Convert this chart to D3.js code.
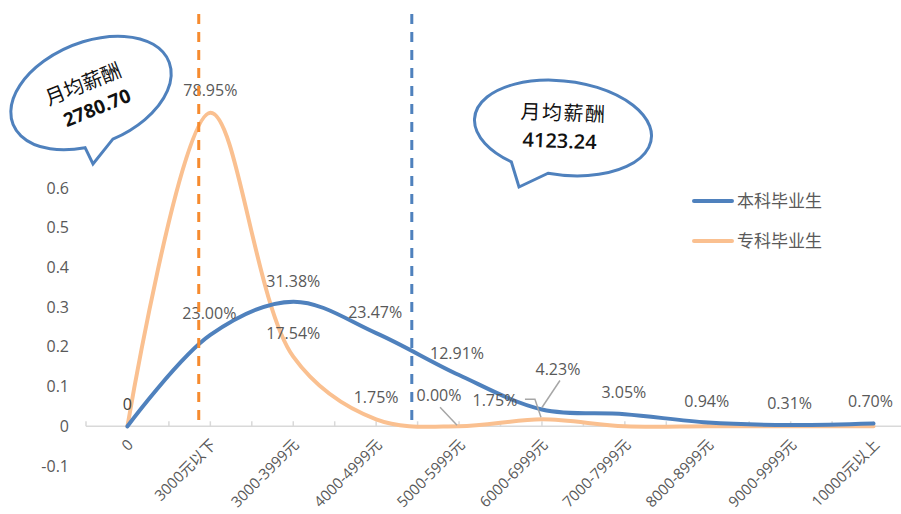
<!DOCTYPE html>
<html lang="zh">
<head>
<meta charset="utf-8">
<script src="https://cdn.jsdelivr.net/npm/d3@7"></script>
<style>
  body { margin: 0; background: #fff; }
  text { font-family: "Open Sans", "Noto Sans CJK SC", sans-serif; }
</style>
</head>
<body>
<svg id="chart" width="901" height="514"></svg>
<script>
// data
var categories = ["0", "3000元以下", "3000-3999元", "4000-4999元", "5000-5999元",
  "6000-6999元", "7000-7999元", "8000-8999元", "9000-9999元", "10000元以上"];
var undergrad = [0, 0.2300, 0.3138, 0.2347, 0.1291, 0.0423, 0.0305, 0.0094, 0.0031, 0.0070];
var college = [0, 0.7895, 0.1754, 0.0175, 0.0000, 0.0175, 0, 0, 0, 0];
var seriesNames = ["本科毕业生", "专科毕业生"];
var yTicks = [-0.1, 0, 0.1, 0.2, 0.3, 0.4, 0.5, 0.6];
var meanSalary = [2780.70, 4123.24];      // 专科, 本科
var meanOnAxis = [0.86, 3.43];            // where the mean sits on the category axis

// which points get a label, and where the label sits (pixels from the point)
var collegeLabels = [[0, 0, -22], [1, 0, -22], [2, 0, -23], [3, 0, -22], [4, -20, -31], [5, -47, -19]];
var undergradLabels = [[1, -1, -22], [2, 0, -20], [3, -1, -21], [4, -2, -22], [5, 16, -40],
  [6, -1, -22], [7, -1, -21], [8, -1, -22], [9, -3, -22]];
var leaders = [
  {s: "undergrad", i: 5, pts: [[18, -29], [0, -2]]},
  {s: "college", i: 4, pts: [[-19, -19], [-2, -1]]},
  {s: "college", i: 5, pts: [[-17, -20], [-7, -20], [-1, -2]]}
];

var blue = "#4f81bd", orange = "#fac090", grey = "#595959";
var svg = d3.select("#chart");

var x = d3.scaleLinear().domain([-0.5, 9.5]).range([86, 915]);
var y = d3.scaleLinear().domain([-0.1, 0.6]).range([466, 188]);
var pct = d3.format(".2%");

// y labels, no axis line
svg.append("g").selectAll("text")
  .data(yTicks)
  .enter().append("text")
  .attr("x", 69)
  .attr("y", d => y(d))
  .attr("dy", "0.35em")
  .attr("text-anchor", "end")
  .style("font-size", "16px")
  .style("fill", grey)
  .text(d => String(+d.toFixed(1)));

// x axis line with ticks every half category
var halfTicks = d3.range(-0.5, 9.51, 0.5);
var xAxisG = svg.append("g").attr("transform", "translate(0," + y(0) + ")");
xAxisG.append("line")
  .attr("x1", x(-0.5)).attr("x2", 901)
  .attr("stroke", "#d9d9d9").attr("stroke-width", 1.5);
xAxisG.selectAll(".tk")
  .data(halfTicks)
  .enter().append("line")
  .attr("x1", d => x(d)).attr("x2", d => x(d))
  .attr("y1", 0).attr("y2", -5)
  .attr("stroke", "#d9d9d9").attr("stroke-width", 1.5);

svg.append("g").selectAll("text")
  .data(categories)
  .enter().append("text")
  .attr("transform", (d, i) => "translate(" + (x(i) + 3) + ",442) rotate(-45)")
  .attr("dy", "0.35em")
  .attr("text-anchor", "end")
  .style("font-size", "15px")
  .style("fill", grey)
  .text(d => d);

// series lines
var line = d3.line()
  .x((d, i) => x(i))
  .y(d => y(d))
  .curve(d3.curveCatmullRom);

svg.append("path")
  .attr("d", line(college))
  .attr("fill", "none")
  .attr("stroke", orange)
  .attr("stroke-width", 4)
  .attr("stroke-linecap", "round");

svg.append("path")
  .attr("d", line(undergrad))
  .attr("fill", "none")
  .attr("stroke", blue)
  .attr("stroke-width", 4)
  .attr("stroke-linecap", "round");

// leader lines
var seriesData = {undergrad: undergrad, college: college};
leaders.forEach(function(l) {
  var px = x(l.i), py = y(seriesData[l.s][l.i]);
  svg.append("polyline")
    .attr("points", l.pts.map(p => (px + p[0]) + "," + (py + p[1])).join(" "))
    .attr("fill", "none")
    .attr("stroke", "#a6a6a6")
    .attr("stroke-width", 1.5);
});

// data labels
function drawLabels(values, spec) {
  svg.append("g").selectAll("text")
    .data(spec)
    .enter().append("text")
    .attr("x", d => x(d[0]) + d[1])
    .attr("y", d => y(values[d[0]]) + d[2])
    .attr("dy", "0.35em")
    .attr("text-anchor", "middle")
    .style("font-size", "16px")
    .style("fill", d => d[0] == 0 ? "#404040" : grey)
    .text(d => d[0] == 0 ? "0" : pct(values[d[0]]));
}
drawLabels(college, collegeLabels);
drawLabels(undergrad, undergradLabels);

// mean salary dashed lines
svg.selectAll(".mean")
  .data(meanOnAxis)
  .enter().append("line")
  .attr("x1", d => x(d)).attr("x2", d => x(d))
  .attr("y1", 14).attr("y2", 422)
  .attr("stroke", (d, i) => i == 0 ? "#f68b2f" : blue)
  .attr("stroke-width", 3)
  .attr("stroke-dasharray", "10,8");

// legend
var legend = svg.append("g");
seriesNames.forEach(function(name, i) {
  var ly = 201 + i * 40;
  legend.append("line")
    .attr("x1", 694).attr("x2", 732).attr("y1", ly).attr("y2", ly)
    .attr("stroke", i == 0 ? blue : orange)
    .attr("stroke-width", 4)
    .attr("stroke-linecap", "round");
  legend.append("text")
    .attr("x", 737).attr("y", ly)
    .attr("dy", "0.35em")
    .style("font-size", "17px")
    .style("fill", grey)
    .text(name);
});

// speech bubbles
function bubble(cx, cy, rx, ry, rot, tA, tB, tip, textRot, lines) {
  var g = svg.append("g").attr("transform", "translate(" + cx + "," + cy + ") rotate(" + rot + ")");
  var a = rot * Math.PI / 180;
  var gx = tip[0] - cx, gy = tip[1] - cy;
  var lx = gx * Math.cos(a) + gy * Math.sin(a);
  var lyy = -gx * Math.sin(a) + gy * Math.cos(a);
  var p1 = [rx * Math.cos(tA * Math.PI / 180), ry * Math.sin(tA * Math.PI / 180)];
  var p2 = [rx * Math.cos(tB * Math.PI / 180), ry * Math.sin(tB * Math.PI / 180)];
  g.append("path")
    .attr("d", "M" + p1 + " A" + rx + "," + ry + " 0 1 0 " + p2 + " L" + lx + "," + lyy + " Z")
    .attr("fill", "#fff")
    .attr("stroke", blue)
    .attr("stroke-width", 3)
    .attr("stroke-linejoin", "miter");
  var tg = svg.append("g").attr("transform", "translate(" + cx + "," + cy + ") rotate(" + textRot + ")");
  lines.forEach(function(t) {
    tg.append("text")
      .attr("x", t[1]).attr("y", t[2])
      .attr("dy", "0.35em")
      .attr("text-anchor", t[4] || "middle")
      .style("font-size", t[5] + "px")
      .style("font-weight", t[3])
      .style("letter-spacing", t[6] || 0)
      .style("fill", "#111")
      .text(t[0]);
  });
}
bubble(91, 93, 84, 51, -22, 88, 108, [93, 164], -22,
  [["月均薪酬", -4, -11, 400, "middle", 20], [d3.format(".2f")(meanSalary[0]), 0, 16, 700, "middle", 19]]);
bubble(563, 128, 89, 47, 7, 96, 122, [519, 187], 2,
  [["月均薪酬", -43, -15, 400, "start", 20, "1.5px"], [d3.format(".2f")(meanSalary[1]), -40, 13, 600, "start", 20]]);
</script>
</body>
</html>
